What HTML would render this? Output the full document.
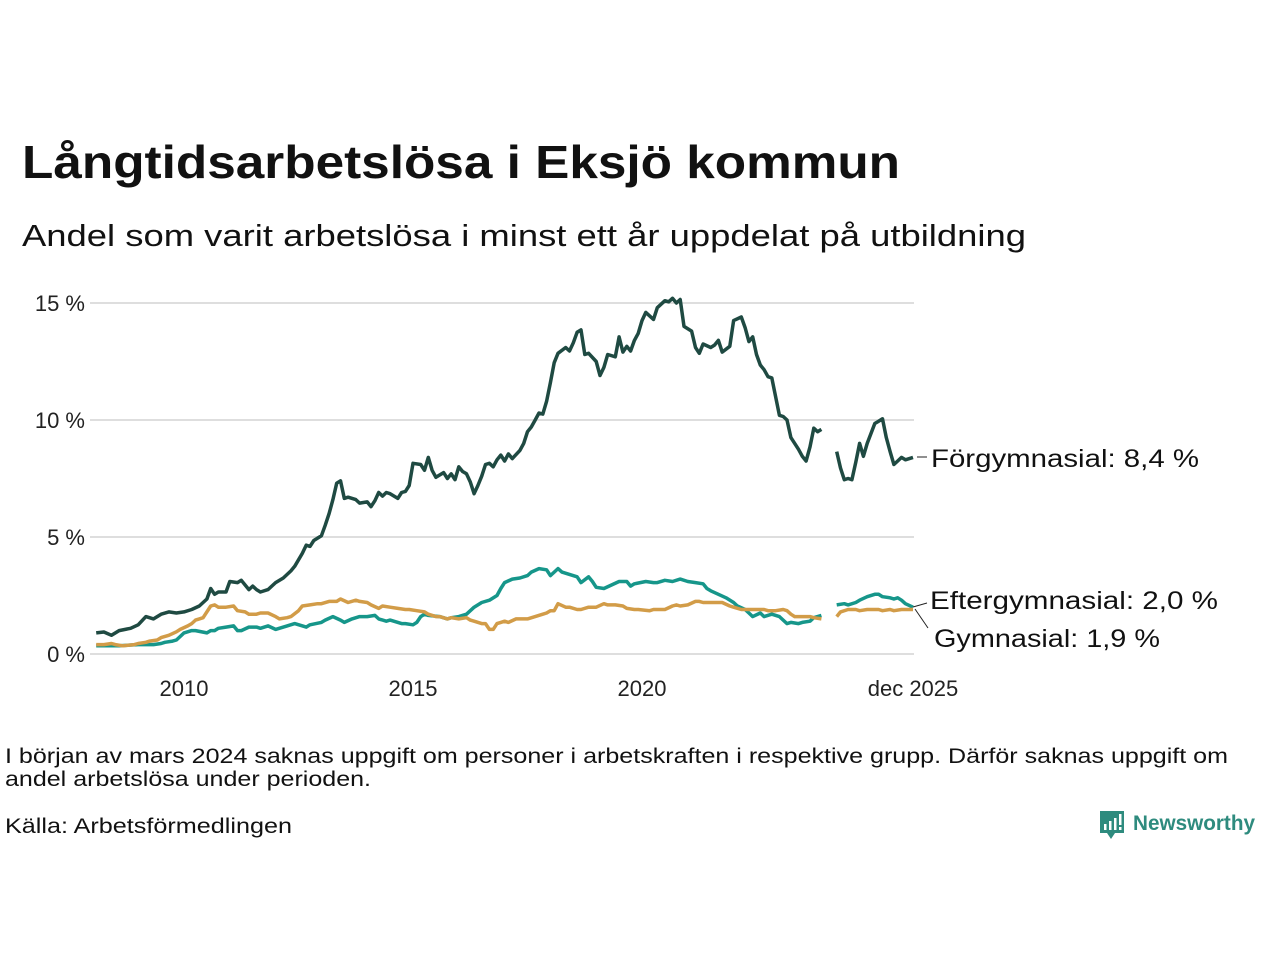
<!DOCTYPE html>
<html><head><meta charset="utf-8"><style>
html,body{margin:0;padding:0;background:#fff;}
svg{display:block;font-family:"Liberation Sans","DejaVu Sans",sans-serif;}
</style></head><body>
<svg id="chart" width="1280" height="960" viewBox="0 0 1280 960">
<text x="22" y="178" font-size="46" font-weight="bold" fill="#111" textLength="878" lengthAdjust="spacingAndGlyphs">Långtidsarbetslösa i Eksjö kommun</text>
<text x="22" y="246" font-size="31" fill="#111" textLength="1004" lengthAdjust="spacingAndGlyphs">Andel som varit arbetslösa i minst ett år uppdelat på utbildning</text>
<g id="grid"></g>
<g id="yticks"></g>
<g id="xticks"></g>
<g id="series"></g>
<line x1="917" y1="457" x2="927" y2="457" stroke="#222" stroke-width="1"/>
<line x1="913" y1="607" x2="927" y2="603" stroke="#222" stroke-width="1"/>
<line x1="915" y1="609" x2="928" y2="628" stroke="#222" stroke-width="1"/>
<text x="931" y="467" font-size="25" fill="#111" textLength="268" lengthAdjust="spacingAndGlyphs">Förgymnasial: 8,4 %</text>
<text x="930" y="609" font-size="25" fill="#111" textLength="288" lengthAdjust="spacingAndGlyphs">Eftergymnasial: 2,0 %</text>
<text x="934" y="647" font-size="25" fill="#111" textLength="226" lengthAdjust="spacingAndGlyphs">Gymnasial: 1,9 %</text>
<text x="5" y="763" font-size="21" fill="#111" textLength="1223" lengthAdjust="spacingAndGlyphs">I början av mars 2024 saknas uppgift om personer i arbetskraften i respektive grupp. Därför saknas uppgift om</text>
<text x="5" y="786" font-size="21" fill="#111" textLength="366" lengthAdjust="spacingAndGlyphs">andel arbetslösa under perioden.</text>
<text x="5" y="833" font-size="21" fill="#111" textLength="287" lengthAdjust="spacingAndGlyphs">Källa: Arbetsförmedlingen</text>
<g>
<path d="M1100 811 h24 v22 h-9 l-4 6 l-4 -6 h-7 z" fill="#2e8b7e"/>
<rect x="1104" y="824" width="2.5" height="6" fill="#fff"/><rect x="1109" y="821" width="2.5" height="9" fill="#fff"/><rect x="1114" y="818" width="2.5" height="12" fill="#fff"/><rect x="1119" y="814" width="2.5" height="11" fill="#fff"/><rect x="1119" y="827" width="2.5" height="3" fill="#fff"/>
<text x="1133" y="830" font-size="21" font-weight="bold" fill="#2e8b7e" textLength="122" lengthAdjust="spacingAndGlyphs">Newsworthy</text>
</g>
</svg>
<script>
const yTicks = [0, 5, 10, 15];
const yTickLabels = ["0 %", "5 %", "10 %", "15 %"];
const xTickMonths = [24, 84, 144, 215];
const xTickLabels = ["2010", "2015", "2020", "dec 2025"];
const fMonths = [1,3,5,7,10,12,14,16,18,20,22,24,26,28,30,31,32,33,35,36,38,39,41,42,43,44,46,48,50,52,53,55,56,57,58,60,61,62,63,64,65,66,67,69,70,72,73,74,75,76,77,78,80,81,82,83,84,86,87,88,89,90,92,93,94,95,96,97,98,99,100,101,102,103,104,105,106,107,108,109,110,112,113,114,115,116,117,118,119,120,121,122,124,125,126,127,128,129,130,132,133,134,135,137,138,139,140,141,142,143,144,145,147,148,150,151,152,153,154,155,157,158,159,160,162,163,164,165,167,168,170,171,172,173,174,175,176,177,178,180,181,182,183,184,185,186,187,188,189,190,191,193,195,196,197,198,199,200,201,202,203,205,206,207,208,209,210,211,212,213,215];
const fValues = [0.9,0.94,0.8,1.0,1.1,1.25,1.6,1.5,1.7,1.8,1.75,1.8,1.9,2.05,2.35,2.8,2.55,2.65,2.65,3.1,3.05,3.15,2.75,2.9,2.75,2.65,2.75,3.05,3.25,3.55,3.75,4.3,4.65,4.6,4.85,5.05,5.5,6.0,6.6,7.3,7.4,6.65,6.7,6.6,6.45,6.5,6.3,6.55,6.9,6.75,6.9,6.85,6.65,6.9,6.95,7.2,8.15,8.1,7.85,8.4,7.85,7.55,7.75,7.5,7.7,7.45,8.0,7.8,7.7,7.35,6.85,7.2,7.6,8.1,8.15,8.0,8.3,8.5,8.25,8.55,8.35,8.7,9.0,9.5,9.7,10.0,10.3,10.25,10.8,11.6,12.45,12.85,13.1,12.95,13.3,13.75,13.85,12.8,12.85,12.5,11.9,12.25,12.8,12.7,13.55,12.9,13.15,12.95,13.4,13.7,14.25,14.6,14.3,14.8,15.1,15.05,15.2,15.0,15.15,14.0,13.8,13.1,12.85,13.25,13.1,13.2,13.4,12.9,13.15,14.25,14.4,13.95,13.35,13.55,12.8,12.35,12.15,11.85,11.8,10.2,10.15,10.0,9.25,9.0,8.75,8.45,8.25,8.85,9.65,9.5,9.6,null,8.65,7.95,7.45,7.5,7.45,8.2,9.0,8.45,9.0,9.85,9.95,10.05,9.25,8.65,8.1,8.25,8.4,8.3,8.4];
const eMonths = [1,7,12,16,18,19,21,22,23,24,26,27,30,31,32,33,35,37,38,39,41,43,44,46,48,51,53,56,57,60,61,63,65,66,68,70,72,74,75,77,78,81,82,84,85,86,87,88,91,93,94,96,98,100,102,104,106,107,108,110,112,114,115,117,119,120,122,123,125,127,128,130,131,132,134,136,138,140,141,142,145,147,148,150,152,154,156,158,160,161,162,164,166,168,169,171,172,173,175,176,178,180,181,182,183,185,186,188,189,191,193,195,197,198,200,201,203,205,206,207,209,210,211,212,213,215];
const eValues = [0.35,0.35,0.4,0.4,0.45,0.5,0.55,0.6,0.75,0.9,1.0,1.0,0.9,1.0,1.0,1.1,1.15,1.2,1.0,1.0,1.15,1.15,1.1,1.2,1.05,1.2,1.3,1.15,1.25,1.35,1.45,1.6,1.45,1.35,1.5,1.6,1.6,1.65,1.5,1.4,1.45,1.3,1.3,1.25,1.35,1.6,1.7,1.65,1.6,1.5,1.55,1.6,1.7,2.0,2.2,2.3,2.5,2.8,3.05,3.2,3.25,3.35,3.5,3.65,3.6,3.35,3.65,3.5,3.4,3.3,3.05,3.3,3.1,2.85,2.8,2.95,3.1,3.1,2.9,3.0,3.1,3.05,3.05,3.15,3.1,3.2,3.1,3.05,3.0,2.8,2.7,2.55,2.4,2.2,2.05,1.9,1.75,1.6,1.75,1.6,1.7,1.6,1.45,1.3,1.35,1.3,1.35,1.4,1.55,1.65,null,2.1,2.15,2.1,2.2,2.3,2.45,2.55,2.55,2.45,2.4,2.35,2.4,2.3,2.15,2.0];
const gMonths = [1,3,5,6,8,11,12,14,15,17,18,20,22,23,25,26,27,28,29,31,32,33,35,37,38,40,41,43,44,46,48,49,51,52,54,55,57,59,60,62,64,65,67,69,70,72,73,75,76,78,80,82,83,85,87,88,90,91,93,94,96,98,99,100,102,103,104,105,106,107,108,109,111,112,114,116,118,119,120,121,122,124,125,127,128,130,132,134,135,137,139,140,142,143,146,147,149,150,152,153,154,156,158,159,160,162,163,165,167,168,170,172,174,176,177,179,181,182,183,184,186,188,189,191,193,195,196,198,200,201,203,205,206,207,209,210,212,213,215];
const gValues = [0.4,0.4,0.45,0.4,0.35,0.4,0.45,0.5,0.55,0.6,0.7,0.8,0.95,1.05,1.2,1.3,1.45,1.5,1.55,2.05,2.1,2.0,2.0,2.05,1.85,1.8,1.7,1.7,1.75,1.75,1.6,1.5,1.55,1.6,1.85,2.05,2.1,2.15,2.15,2.25,2.25,2.35,2.2,2.3,2.25,2.2,2.1,1.95,2.05,2.0,1.95,1.9,1.9,1.85,1.8,1.7,1.6,1.6,1.5,1.55,1.5,1.55,1.45,1.4,1.3,1.3,1.05,1.05,1.3,1.35,1.4,1.35,1.5,1.5,1.5,1.6,1.7,1.75,1.85,1.85,2.15,2.0,2.0,1.9,1.9,2.0,2.0,2.15,2.1,2.1,2.05,1.95,1.9,1.9,1.85,1.9,1.9,1.9,2.05,2.1,2.05,2.1,2.25,2.25,2.2,2.2,2.2,2.2,2.05,2.0,1.9,1.9,1.9,1.9,1.85,1.85,1.9,1.85,1.7,1.6,1.6,1.6,1.55,1.5,null,1.6,1.8,1.9,1.9,1.85,1.9,1.9,1.9,1.85,1.9,1.85,1.9,1.9,1.9];

const NS = "http://www.w3.org/2000/svg";
function xScale(m){ return 913 + (m - 215) * (45.8 / 12); }
function yScale(v){ return 654 - v * 23.4; }
function mk(tag, attrs, parent){ const e = document.createElementNS(NS, tag); for (const k in attrs) e.setAttribute(k, attrs[k]); parent.appendChild(e); return e; }

const grid = document.getElementById('grid');
const yt = document.getElementById('yticks');
yTicks.forEach((t, i) => {
  const l = mk('line', {x1: 90, x2: 914, y1: yScale(t), y2: yScale(t), stroke: '#dedede', 'stroke-width': 2}, grid);
  
  
  const tx = mk('text', {x: 85, y: yScale(t) + 8, 'font-size': 22, fill: '#222', 'text-anchor': 'end'}, yt);
  tx.textContent = yTickLabels[i];
  
  
});
const xt = document.getElementById('xticks');
xTickMonths.forEach((m, i) => {
  const tx = mk('text', {x: xScale(m), y: 696, 'font-size': 22, fill: '#222', 'text-anchor': 'middle'}, xt);
  tx.textContent = xTickLabels[i];
  
  
});

const seriesG = document.getElementById('series');
function drawSeries(months, values, color, name){
  let d = '';
  let pen = false;
  for (let i = 0; i < months.length; i++){
    if (values[i] === null) { pen = false; continue; }
    d += (pen ? 'L' : 'M') + xScale(months[i]).toFixed(1) + ' ' + yScale(values[i]).toFixed(1) + ' ';
    pen = true;
  }
  const p = mk('path', {d: d, fill: 'none', stroke: color, 'stroke-width': 3.5, 'stroke-linejoin': 'round'}, seriesG);
  
  
}
drawSeries(eMonths, eValues, '#16968a', 'line-eftergymnasial');
drawSeries(gMonths, gValues, '#d29c48', 'line-gymnasial');
drawSeries(fMonths, fValues, '#1f4a42', 'line-forgymnasial');
</script>
</body></html>
